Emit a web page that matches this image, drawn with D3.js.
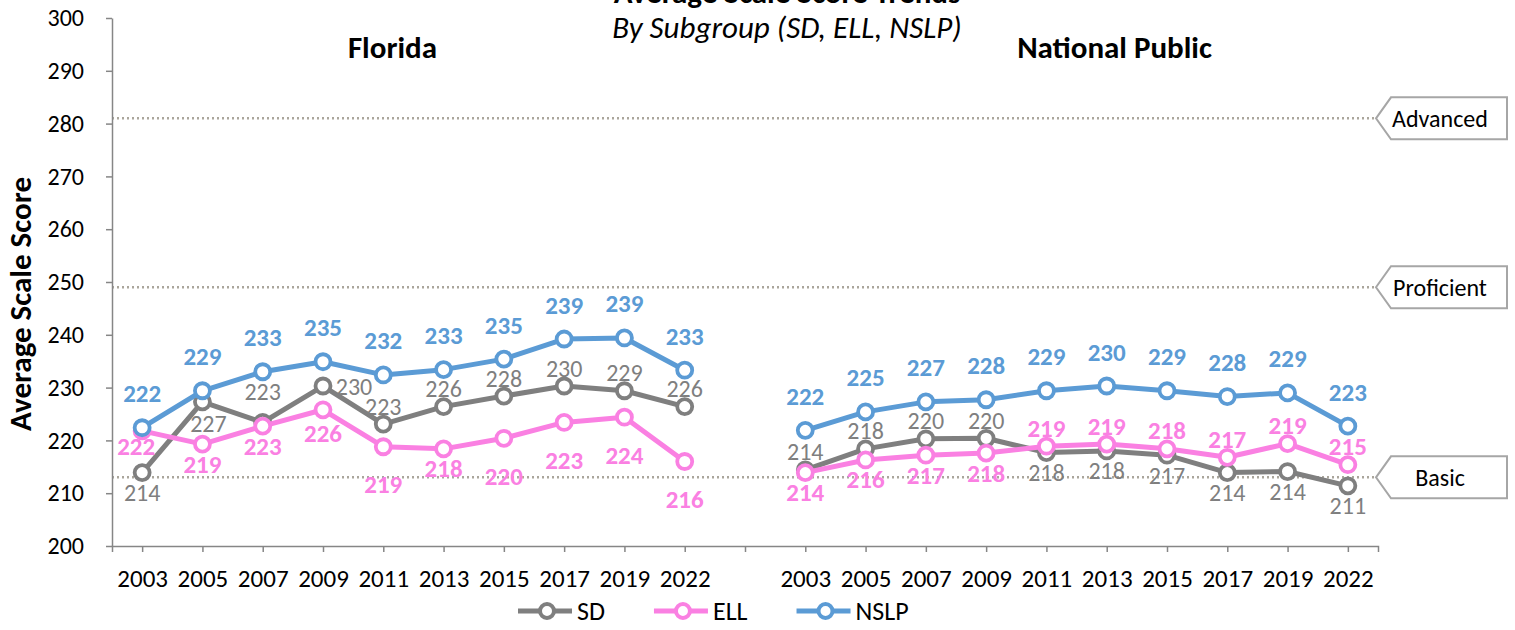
<!DOCTYPE html>
<meta charset="utf-8">
<script src="https://d3js.org/d3.v7.min.js"></script>
<style>
  body { margin: 0; background: #fff; }
  text { font-family: Carlito, Calibri, "Open Sans", sans-serif; }
</style>
<div id="chart"></div>
<script>
// ---- data ----
const years = ["2003", "2005", "2007", "2009", "2011", "2013", "2015", "2017", "2019", "2022"];
const regions = ["Florida", "National Public"];
const seriesNames = ["SD", "ELL", "NSLP"];

const flSD   = [213.9, 227.3, 223.4, 230.3, 223.1, 226.4, 228.4, 230.3, 229.4, 226.4];
const flELL  = [221.8, 219.3, 222.7, 225.8, 218.8, 218.4, 220.4, 223.4, 224.4, 216.0];
const flNSLP = [222.4, 229.4, 233.0, 234.9, 232.4, 233.4, 235.4, 239.2, 239.4, 233.3];

const npSD   = [214.4, 218.4, 220.3, 220.4, 217.7, 218.0, 217.2, 213.9, 214.1, 211.4];
const npELL  = [213.9, 216.3, 217.2, 217.6, 218.9, 219.3, 218.4, 216.8, 219.4, 215.4];
const npNSLP = [221.9, 225.4, 227.3, 227.7, 229.4, 230.3, 229.4, 228.3, 229.0, 222.7];

const levelNames  = ["Basic", "Proficient", "Advanced"];
const levelScores = [213, 249, 281];
const yTickValues = [200, 210, 220, 230, 240, 250, 260, 270, 280, 290, 300];

// ---- layout ----
const W = 1515, H = 630;
const plot = { left: 112, right: 1378, top: 18, bottom: 546 };
const colors = { SD: "#7f7f7f", ELL: "#fa80e2", NSLP: "#5b9bd5" };

// label offsets (center of label relative to the marker)
const labelDefault = { above: -18, below: 20, nslp: -34 };
// labels that were dragged away from the default spot
const labelOverride = {
  "Florida|SD|1":  { dx: 6, dy: 22 },
  "Florida|SD|2":  { dx: 0, dy: -31 },
  "Florida|SD|3":  { dx: 31, dy: 0 },
  "Florida|ELL|0": { dx: -6, dy: 16 },
  "Florida|ELL|3": { dx: 0, dy: 24 },
  "Florida|ELL|4": { dx: 0, dy: 38 },
  "Florida|ELL|6": { dx: 0, dy: 38 },
  "Florida|ELL|7": { dx: 0, dy: 38 },
  "Florida|ELL|8": { dx: 0, dy: 38 },
  "Florida|ELL|9": { dx: 0, dy: 38 }
};

const regionData = [
  { name: regions[0], key: "FL", SD: flSD, ELL: flELL, NSLP: flNSLP, shift: -21 },
  { name: regions[1], key: "NP", SD: npSD, ELL: npELL, NSLP: npNSLP, shift: 38 }
];

const categories = years.map(y => "FL " + y).concat(["gap"], years.map(y => "NP " + y));

const svg = d3.select("#chart").append("svg")
  .attr("width", W).attr("height", H);

const x = d3.scalePoint()
  .domain(categories)
  .range([plot.left, plot.right])
  .padding(0.5);

const y = d3.scaleLinear()
  .domain([200, 300])
  .range([plot.bottom, plot.top]);

// title (cut at the top in the original)
svg.append("text")
  .attr("x", 787).attr("y", 3)
  .attr("text-anchor", "middle")
  .style("font-size", "31px").style("font-weight", "bold")
  .text("Average Scale Score Trends");

svg.append("text")
  .attr("x", 787).attr("y", 38)
  .attr("text-anchor", "middle")
  .style("font-size", "31px").style("font-style", "italic")
  .text("By Subgroup (SD, ELL, NSLP)");

// region headings
svg.selectAll(".region")
  .data(regionData)
  .join("text")
  .attr("class", "region")
  .attr("x", d => (x(d.key + " " + years[0]) + x(d.key + " " + years[years.length - 1])) / 2 + d.shift)
  .attr("y", 58)
  .attr("text-anchor", "middle")
  .style("font-size", "31px").style("font-weight", "bold")
  .text(d => d.name);

// achievement level lines
svg.selectAll(".level")
  .data(levelScores)
  .join("line")
  .attr("class", "level")
  .attr("x1", plot.left).attr("x2", plot.right - 2)
  .attr("y1", d => y(d)).attr("y2", d => y(d))
  .attr("stroke", "#aaa69c")
  .attr("stroke-width", 2.5)
  .attr("stroke-dasharray", "2,3");

// callouts
const callout = svg.selectAll(".callout")
  .data(levelScores)
  .join("g")
  .attr("class", "callout")
  .attr("transform", d => `translate(0,${y(d)})`);

callout.append("path")
  .attr("d", "M1376,0 L1391,-21 L1507,-21 L1507,21 L1391,21 Z")
  .attr("fill", "#fff")
  .attr("stroke", "#a6a6a6")
  .attr("stroke-width", 2);

callout.append("text")
  .attr("x", 1440).attr("y", 0)
  .attr("dy", "0.35em")
  .attr("text-anchor", "middle")
  .style("font-size", "24px")
  .text((d, i) => levelNames[i]);

// axes
const yAxis = svg.append("g")
  .attr("transform", `translate(${plot.left},0)`)
  .call(d3.axisLeft(y).tickValues(yTickValues).tickSize(6).tickSizeOuter(0).tickPadding(22));

const xAxis = svg.append("g")
  .attr("transform", `translate(0,${plot.bottom})`)
  .call(d3.axisBottom(x).tickSize(6).tickSizeOuter(6).tickPadding(17)
    .tickFormat(d => d === "gap" ? "" : d.slice(3)));

[yAxis, xAxis].forEach(g => {
  g.selectAll("path, line").attr("stroke", "#868686").attr("stroke-width", 1.5);
  g.selectAll("text").attr("fill", "#000")
    .style("font-family", "Carlito, Calibri, 'Open Sans', sans-serif");
});
yAxis.selectAll("text").style("font-size", "24px");
xAxis.selectAll("text").style("font-size", "25px").attr("dy", "0.71em");

svg.append("text")
  .attr("transform", "translate(31,304) rotate(-90)")
  .attr("text-anchor", "middle")
  .style("font-size", "31px").style("font-weight", "bold")
  .text("Average Scale Score");

// series
const line = d3.line().x(d => d.x).y(d => d.y);

const points = [];
regionData.forEach(r => {
  seriesNames.forEach(s => {
    const pts = r[s].map((v, i) => ({
      region: r.name, series: s, i: i, value: v,
      x: x(r.key + " " + years[i]), y: y(v)
    }));
    points.push({ region: r, series: s, pts: pts });
  });
});

// draw in series order so NSLP ends on top
seriesNames.forEach(s => {
  points.filter(p => p.series === s).forEach(p => {
    svg.append("path")
      .datum(p.pts)
      .attr("d", line)
      .attr("fill", "none")
      .attr("stroke", colors[s])
      .attr("stroke-width", 5)
      .attr("stroke-linejoin", "round");
    svg.selectAll(null)
      .data(p.pts)
      .join("circle")
      .attr("cx", d => d.x).attr("cy", d => d.y)
      .attr("r", 7.5)
      .attr("fill", "#fff")
      .attr("stroke", colors[s])
      .attr("stroke-width", 3.8);
  });
});

// labels
points.forEach(p => {
  const r = p.region;
  svg.selectAll(null)
    .data(p.pts)
    .join("text")
    .attr("text-anchor", "middle")
    .attr("dominant-baseline", "central")
    .attr("fill", colors[p.series])
    .style("font-size", p.series === "SD" ? "24px" : "25px")
    .style("font-weight", p.series === "SD" ? "normal" : "bold")
    .attr("x", d => {
      const o = labelOverride[`${d.region}|${d.series}|${d.i}`];
      return d.x + (o ? o.dx : 0);
    })
    .attr("y", d => {
      const o = labelOverride[`${d.region}|${d.series}|${d.i}`];
      if (o) return d.y + o.dy;
      if (d.series === "NSLP") return d.y + labelDefault.nslp;
      const other = d.series === "SD" ? r.ELL[d.i] : r.SD[d.i];
      return d.y + (d.value >= other ? labelDefault.above : labelDefault.below);
    })
    .text(d => Math.round(d.value));
});

// legend
const legend = svg.append("g").attr("transform", "translate(0,611)");
let lx = 518;
seriesNames.forEach(s => {
  const g = legend.append("g").attr("transform", `translate(${lx},0)`);
  g.append("line").attr("x1", 0).attr("x2", 54)
    .attr("stroke", colors[s]).attr("stroke-width", 5);
  g.append("circle").attr("cx", 29).attr("r", 7)
    .attr("fill", "#fff").attr("stroke", colors[s]).attr("stroke-width", 4);
  const t = g.append("text").attr("x", 59).attr("dy", "0.35em")
    .style("font-size", "26px").text(s);
  lx += 59 + t.node().getComputedTextLength() + 49;
});
</script>
